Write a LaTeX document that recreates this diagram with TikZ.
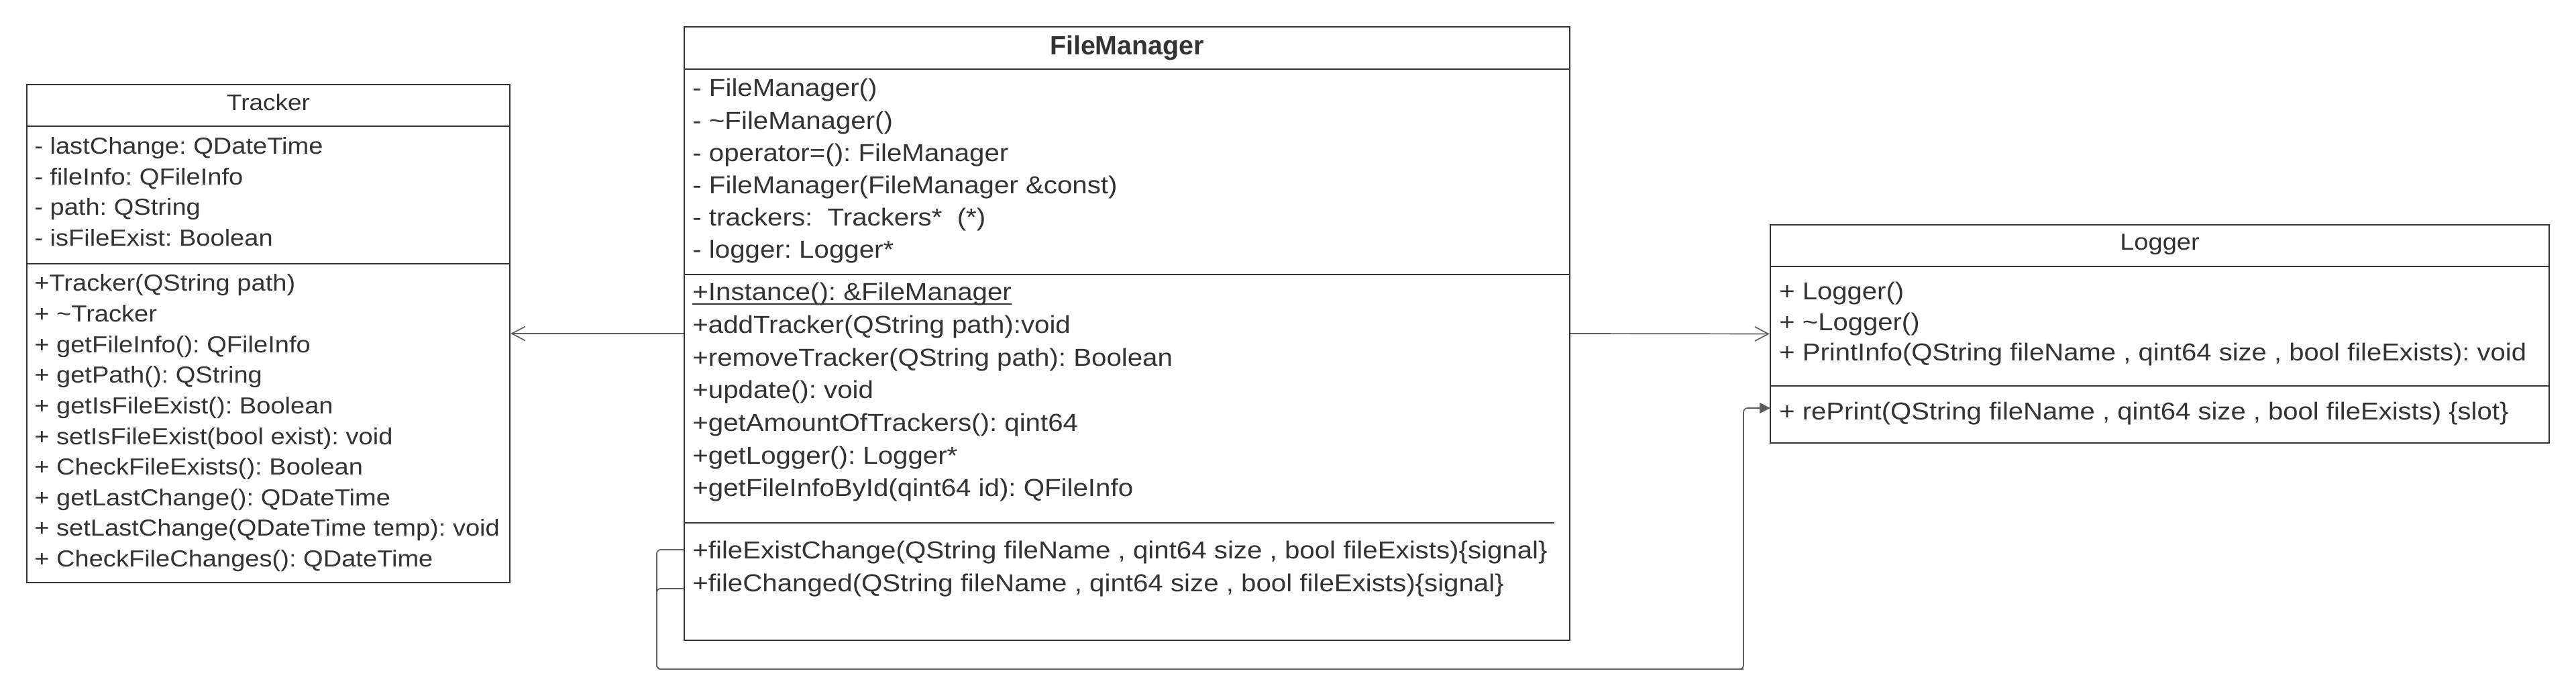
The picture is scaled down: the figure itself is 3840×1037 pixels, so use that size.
\documentclass[tikz,border=0pt]{standalone}
\usepackage{fontspec}
\setmainfont{Liberation Sans}[FakeStretch=1.1]
\newfontfamily\titlefont{Liberation Sans}
\usetikzlibrary{arrows.meta,fit}
\definecolor{ink}{HTML}{333333}
\definecolor{wire}{HTML}{5E5E5E}
\frenchspacing
\begin{document}
\begin{tikzpicture}[x=0.5pt,y=-0.5pt,
  box/.style={draw=ink, line width=1.1pt, inner sep=0pt},
  sepline/.style={draw=ink, line width=1.1pt},
  line/.style={anchor=base west, inner sep=0pt, text=ink},
  trtext/.style={line, font=\fontsize{17.3pt}{20pt}\selectfont},
  fmtext/.style={line, font=\fontsize{18.3pt}{21pt}\selectfont},
  lgtext/.style={line, font=\fontsize{18.2pt}{21pt}\selectfont},
  wireline/.style={draw=wire, line width=0.85pt},
  openarrow/.style={wireline, -{Straight Barb[length=10pt,width=10.5pt]}},
  sigwire/.style={wireline, rounded corners=3pt},
]
\useasboundingbox (0,0) rectangle (3840,1037);

% ---------------- Tracker ----------------
\coordinate (tr-nw) at (40,126);
\coordinate (tr-se) at (760,868);
\node[box, fit=(tr-nw)(tr-se)] (tracker) {};
\draw[sepline] (40,188) -- (760,188);
\draw[sepline] (40,393) -- (760,393);
\node[anchor=base, inner sep=0pt, text=ink, font=\fontsize{16.8pt}{20pt}\selectfont] (tr-title) at (400,165) {Tracker};
\foreach [count=\i] \t in {{- lastChange: QDateTime},{- fileInfo: QFileInfo},{- path: QString},{- isFileExist: Boolean}}
  \node[trtext] (tr-a\i) at (51,{230+45.4*(\i-1)}) {\t};
\foreach [count=\i] \t in {{+Tracker(QString path)},{+ \textasciitilde Tracker},{+ getFileInfo(): QFileInfo},{+ getPath(): QString},{+ getIsFileExist(): Boolean},{+ setIsFileExist(bool exist): void},{+ CheckFileExists(): Boolean},{+ getLastChange(): QDateTime},{+ setLastChange(QDateTime temp): void},{+ CheckFileChanges(): QDateTime}}
  \node[trtext] (tr-m\i) at (51,{434+45.6*(\i-1)}) {\t};

% ---------------- FileManager ----------------
\coordinate (fm-nw) at (1020,40);
\coordinate (fm-se) at (2340,954);
\node[box, fit=(fm-nw)(fm-se)] (fm) {};
\draw[sepline] (1020,103) -- (2340,103);
\draw[sepline] (1020,409) -- (2340,409);
\draw[sepline] (1020,779) -- (2317,779);
\node[anchor=base, inner sep=0pt, text=ink, font=\titlefont\bfseries\fontsize{19.7pt}{23pt}\selectfont] (fm-title) at (1680,82) {FileManager};
\foreach [count=\i] \t in {{- FileManager()},{- \textasciitilde FileManager()},{- operator=(): FileManager},{- FileManager(FileManager \&const)},{- trackers:\ \ Trackers*\ \ (*)},{- logger: Logger*}}
  \node[fmtext] (fm-a\i) at (1032,{144+48.2*(\i-1)}) {\t};
\foreach [count=\i] \t in {{+Instance(): \&FileManager},{+addTracker(QString path):void},{+removeTracker(QString path): Boolean},{+update(): void},{+getAmountOfTrackers(): qint64},{+getLogger(): Logger*},{+getFileInfoById(qint64 id): QFileInfo}}
  \node[fmtext] (fm-m\i) at (1032,{448+48.6*(\i-1)}) {\t};
\draw[draw=ink, line width=1.1pt] ([yshift=-2.6pt]fm-m1.base west) -- ([yshift=-2.6pt]fm-m1.base east);
\node[fmtext] (fm-s1) at (1032,832) {+fileExistChange(QString fileName , qint64 size , bool fileExists)\{signal\}};
\node[fmtext] (fm-s2) at (1032,881) {+fileChanged(QString fileName , qint64 size , bool fileExists)\{signal\}};

% ---------------- Logger ----------------
\coordinate (lg-nw) at (2639,335);
\coordinate (lg-se) at (3800,660);
\node[box, fit=(lg-nw)(lg-se)] (logger) {};
\draw[sepline] (2639,397) -- (3800,397);
\draw[sepline] (2639,575) -- (3800,575);
\node[anchor=base, inner sep=0pt, text=ink, font=\fontsize{17.3pt}{20pt}\selectfont] (lg-title) at (3219.5,373) {Logger};
\foreach [count=\i] \t in {{+ Logger()},{+ \textasciitilde Logger()},{+ PrintInfo(QString fileName , qint64 size , bool fileExists): void}}
  \node[lgtext] (lg-a\i) at (2652,{447+45.5*(\i-1)}) {\t};
\node[lgtext] (lg-m1) at (2652,625) {+ rePrint(QString fileName , qint64 size , bool fileExists) \{slot\}};

% ---------------- Connectors ----------------
\draw[openarrow] (fm.west) -- (tracker.east);
\draw[openarrow] (fm.east) -- (logger.west);
\coordinate (sig1) at (1020,819);
\coordinate (sig2) at (1020,877);
\coordinate (slot) at (2639,608);
\draw[sigwire, -{Triangle[length=8pt,width=8pt]}] (sig1) -- (979,819) |- (2599,997) |- (slot);
\draw[sigwire] (sig2) -- (979,877) |- (2599,997);
\end{tikzpicture}
\end{document}
